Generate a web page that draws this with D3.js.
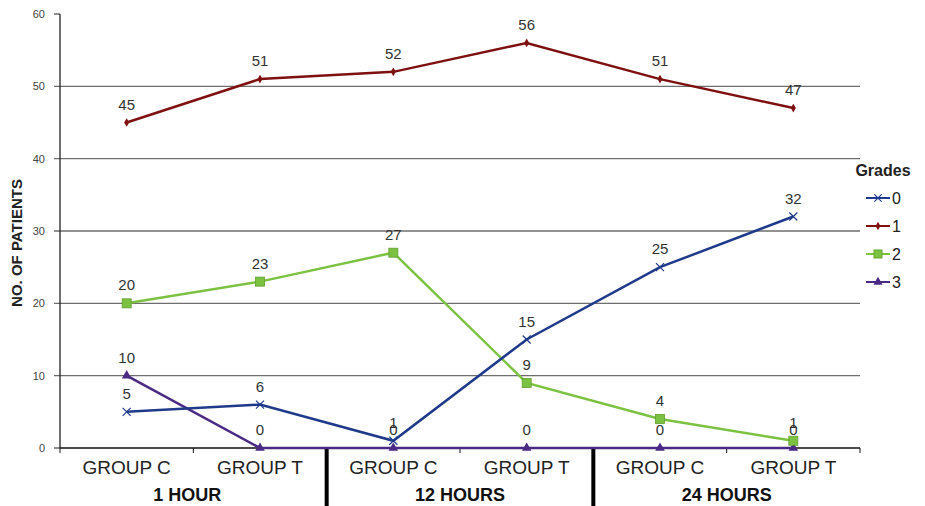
<!DOCTYPE html>
<html>
<head>
<meta charset="utf-8">
<script src="https://cdn.jsdelivr.net/npm/d3@7"></script>
<style>
  body { margin: 0; background: #fff; }
  svg { font-family: "Liberation Sans", Arial, sans-serif; }
</style>
</head>
<body>
<div id="chart"></div>
<script>
const categories = ["C1", "T1", "C12", "T12", "C24", "T24"];
const groupLabels = ["GROUP C", "GROUP T", "GROUP C", "GROUP T", "GROUP C", "GROUP T"];
const periods = ["1 HOUR", "12 HOURS", "24 HOURS"];
const grades = ["0", "1", "2", "3"];
const grade0 = [5, 6, 1, 15, 25, 32];
const grade1 = [45, 51, 52, 56, 51, 47];
const grade2 = [20, 23, 27, 9, 4, 1];
const grade3 = [10, 0, 0, 0, 0, 0];
const yTicks = [0, 10, 20, 30, 40, 50, 60];

const series = [
  {name: grades[0], values: grade0, color: "#1f3a8a", marker: "x"},
  {name: grades[1], values: grade1, color: "#7e1010", marker: "diamond"},
  {name: grades[2], values: grade2, color: "#7cc242", marker: "square"},
  {name: grades[3], values: grade3, color: "#4a2a85", marker: "triangle"}
];

const margin = {top: 14, right: 65, bottom: 58, left: 60},
      width = 925 - margin.left - margin.right,
      height = 506 - margin.top - margin.bottom;

const svg = d3.select("#chart").append("svg")
    .attr("width", 925).attr("height", 506)
  .append("g")
    .attr("transform", `translate(${margin.left},${margin.top})`);

const x = d3.scaleBand().domain(categories).range([0, width]);
const y = d3.scaleLinear().domain([0, 60]).range([height, 0]);

// gridlines
svg.selectAll(".grid").data(yTicks.filter(t => t > 0 && t < 60))
  .enter().append("line")
  .attr("x1", -6).attr("x2", width)
  .attr("y1", d => y(d)).attr("y2", d => y(d))
  .attr("stroke", "#6e6e6e").attr("stroke-width", 1.3);

// y axis
svg.append("line").attr("x1", 0).attr("x2", 0).attr("y1", 0).attr("y2", height)
  .attr("stroke", "#222").attr("stroke-width", 1.3);
svg.selectAll(".ytick").data([0, 60]).enter().append("line")
  .attr("x1", -6).attr("x2", 0).attr("y1", d => y(d)).attr("y2", d => y(d))
  .attr("stroke", "#222");
svg.selectAll(".ylab").data(yTicks).enter().append("text")
  .attr("x", -15).attr("y", d => y(d) + 4)
  .attr("text-anchor", "end")
  .style("font-size", "11px").attr("fill", "#444")
  .text(d => d);

svg.append("text")
  .attr("transform", `translate(-38,${height / 2 + 12}) rotate(-90)`)
  .attr("text-anchor", "middle")
  .style("font-size", "15px").style("font-weight", "bold").attr("fill", "#222")
  .text("NO. OF PATIENTS");

// x axis
svg.append("line").attr("x1", 0).attr("x2", width).attr("y1", height).attr("y2", height)
  .attr("stroke", "#111").attr("stroke-width", 1.5);
const bounds = d3.range(categories.length + 1).map(i => i * x.bandwidth());
svg.selectAll(".xtick").data(bounds).enter().append("line")
  .attr("x1", d => d).attr("x2", d => d)
  .attr("y1", height).attr("y2", height + 5)
  .attr("stroke", "#111");
svg.selectAll(".xlab").data(categories).enter().append("text")
  .attr("x", d => x(d) + x.bandwidth() / 2)
  .attr("y", height + 26)
  .attr("text-anchor", "middle")
  .style("font-size", "19px").attr("fill", "#222")
  .text((d, i) => groupLabels[i]);

// period dividers and labels
[2, 4].forEach(i => {
  svg.append("line")
    .attr("x1", bounds[i]).attr("x2", bounds[i])
    .attr("y1", height).attr("y2", height + margin.bottom)
    .attr("stroke", "#000").attr("stroke-width", 4);
});
periods.forEach((p, i) => {
  svg.append("text")
    .attr("x", x(categories[i * 2]) + x.bandwidth() - (i === 0 ? 6 : 0))
    .attr("y", height + 53)
    .attr("text-anchor", "middle")
    .style("font-size", "18px").style("font-weight", "bold").attr("fill", "#111")
    .text(p);
});

const line = d3.line()
  .x((d, i) => x(categories[i]) + x.bandwidth() / 2)
  .y(d => y(d));

function drawMarker(g, type, color, cx, cy, scale) {
  const s = scale || 1;
  if (type === "x") {
    g.append("path")
      .attr("d", `M${cx - 4 * s},${cy - 4 * s}L${cx + 4 * s},${cy + 4 * s}M${cx - 4 * s},${cy + 4 * s}L${cx + 4 * s},${cy - 4 * s}`)
      .attr("stroke", color).attr("stroke-width", 1.2);
  } else if (type === "diamond") {
    g.append("path").attr("d", d3.symbol(d3.symbolDiamond, 22 * s)())
      .attr("transform", `translate(${cx},${cy})`).attr("fill", color);
  } else if (type === "square") {
    g.append("rect").attr("x", cx - 4.5 * s).attr("y", cy - 4.5 * s)
      .attr("width", 9 * s).attr("height", 9 * s)
      .attr("fill", color).attr("stroke", "#5f9e2c").attr("stroke-width", 0.8);
  } else {
    g.append("path").attr("d", d3.symbol(d3.symbolTriangle, 40 * s)())
      .attr("transform", `translate(${cx},${cy})`).attr("fill", color);
  }
}

// draw series in reverse so grade 0 stays on top near the bottom
[3, 2, 1, 0].forEach(k => {
  const s = series[k];
  svg.append("path").datum(s.values)
    .attr("d", line).attr("fill", "none")
    .attr("stroke", s.color).attr("stroke-width", 2.5);
  const g = svg.append("g");
  s.values.forEach((v, i) => {
    drawMarker(g, s.marker, s.color, x(categories[i]) + x.bandwidth() / 2, y(v));
  });
});

// data labels
series.forEach(s => {
  svg.selectAll(null).data(s.values).enter().append("text")
    .attr("x", (d, i) => x(categories[i]) + x.bandwidth() / 2)
    .attr("y", d => y(d) - 13)
    .attr("text-anchor", "middle")
    .style("font-size", "15px").attr("fill", "#333")
    .text(d => d);
});

// legend
const legend = svg.append("g").attr("transform", `translate(${width - 7}, 0)`);
legend.append("text").attr("x", 30).attr("y", 162)
  .attr("text-anchor", "middle")
  .style("font-size", "16px").style("font-weight", "bold").attr("fill", "#222")
  .text("Grades");
series.forEach((s, i) => {
  const ly = 184 + i * 28;
  legend.append("line").attr("x1", 13).attr("x2", 37).attr("y1", ly).attr("y2", ly)
    .attr("stroke", s.color).attr("stroke-width", 2);
  drawMarker(legend, s.marker, s.color, 25, ly, 0.9);
  legend.append("text").attr("x", 39).attr("y", ly + 6)
    .style("font-size", "16px").attr("fill", "#222")
    .text(s.name);
});
</script>
</body>
</html>
